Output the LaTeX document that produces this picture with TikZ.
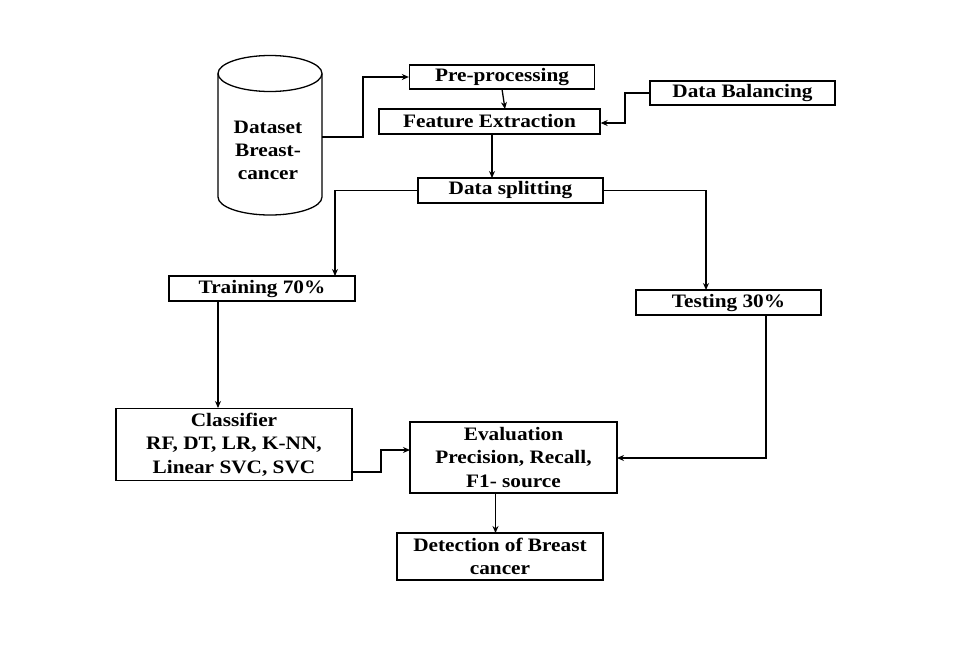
\documentclass[tikz,border=0pt]{standalone}
\usepackage{fontspec}
\setmainfont{Liberation Serif}[FakeStretch=1.12]
\usetikzlibrary{arrows.meta,shapes.geometric}
\begin{document}
\begin{tikzpicture}[x=1pt,y=-1pt,
  line width=1.3pt,
  box/.style={draw, rectangle, inner sep=0pt, align=center,
    font=\fontsize{19}{23.5}\selectfont\bfseries},
  arr/.style={-{Stealth[length=7pt,width=6pt]}}
]
\useasboundingbox (0,0) rectangle (962,646);
% cylinder
\draw (218,73.5) -- (218,197) arc[start angle=180,end angle=0,x radius=52,y radius=18] -- (322,73.5);
\draw (270,73.5) ellipse[x radius=52,y radius=18];
\node[font=\fontsize{19}{23}\selectfont\bfseries, align=center] (ds) at (268,150) {Dataset\\Breast-\\cancer};
\coordinate (dsR) at (322,137);

\node[box, minimum width=185, minimum height=24] (pre) at (502,77) {Pre-processing};
\node[box, minimum width=221, minimum height=25] (fe) at (489.5,121.5) {Feature Extraction};
\node[box, minimum width=185, minimum height=24] (bal) at (742.5,93) {Data Balancing};
\node[box, minimum width=185, minimum height=25] (split) at (510.5,190.5) {Data splitting};
\node[box, minimum width=186, minimum height=25] (train) at (262,288.5) {Training 70\%};
\node[box, minimum width=185, minimum height=25] (test) at (728.5,302.5) {Testing 30\%};
\node[box, minimum width=236, minimum height=72] (cls) at (234,444.5) {Classifier\\RF, DT, LR, K-NN,\\Linear SVC, SVC};
\node[box, minimum width=207, minimum height=71] (eval) at (513.5,457.5) {Evaluation\\Precision, Recall,\\F1- source};
\node[box, minimum width=206, minimum height=47] (det) at (500,556.5) {Detection of Breast\\cancer};

\draw[arr] (dsR) -- (363,137) -- (363,77) -- (pre.west);
\draw[arr] (502,89) -- (505,109);
\draw[arr] (bal.west) -- (625,93) -- (625,123) -- (fe.east |- 0,123);
\draw[arr] (492,134) -- (492,178);
\draw[arr] (split.west) -- (335,190.5) -- (335,276);
\draw[arr] (split.east) -- (706,190.5) -- (706,290);
\draw[arr] (218,301) -- (218,408);
\draw[arr] (352,472) -- (381,472) -- (381,450) -- (410,450);
\draw[arr] (766,315) -- (766,458) -- (617,458);
\draw[arr] (495.5,493) -- (495.5,533);
\end{tikzpicture}
\end{document}
